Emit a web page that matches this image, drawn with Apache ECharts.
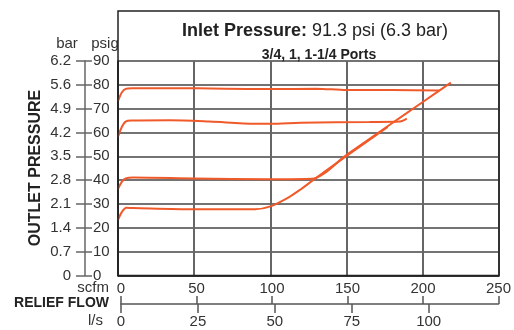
<!DOCTYPE html>
<html><head><meta charset="utf-8">
<script src="https://cdn.jsdelivr.net/npm/echarts@6/dist/echarts.min.js"></script>
<style>html,body{margin:0;padding:0;background:#fff}#c{width:514px;height:330px}</style>
</head><body><div id="c"></div>
<script>
// ---- data ----
const psigLabels = ['0','10','20','30','40','50','60','70','80','90'];
const barLabels = ['0','0.7','1.4','2.1','2.8','3.5','4.2','4.9','5.6','6.2'];
const scfmTicks = [0,50,100,150,200,250];
const lpsTicks = [0,25,50,75,100];
// [relief flow scfm, outlet pressure psig]
const curve80 = [[0,73.2],[2.5,76.8],[5,78.3],[9,78.6],[34,78.6],[70,78.4],[100,78.2],[130,78.4],[150,77.8],[180,77.8],[211,77.6]];
const curve60 = [[0,58.2],[2.5,62.3],[5,64.6],[9,65],[34,65.1],[60,64.6],[90,63.7],[100,63.7],[120,64.1],[165,64.4],[185,64.6],[189.5,65.8]];
const curve40 = [[0,36.3],[2.5,39.3],[5,40.7],[10,41.1],[50,40.7],[100,40.4],[127,40.6],[150,50.6],[175,61.8],[200,72.8],[218.4,80.9]];
const curve20 = [[0,23.3],[2.5,26.6],[5.5,28.4],[10,28.3],[50,27.8],[90,27.8],[100,29],[112,32.8],[120,36.2],[128,40],[150,50.2],[177,62.3]];

const FONT = 'Liberation Sans';
const ORANGE = '#F05A2A';
const chart = echarts.init(document.getElementById('c'), null, {renderer:'canvas'});

function line(d){
  return {type:'line', xAxisIndex:0, yAxisIndex:0, data:d, showSymbol:false, smooth:0.3,
    lineStyle:{color:ORANGE, width:2}, itemStyle:{color:ORANGE}, z:5, animation:false};
}

chart.setOption({
  animation:false,
  backgroundColor:'#fff',
  textStyle:{fontFamily:FONT},
  title:[
    {text:'{b|Inlet Pressure:}{n| 91.3 psi (6.3 bar)}', left:310, top:17, textAlign:'center',
     textStyle:{fontWeight:'normal', rich:{b:{fontFamily:FONT,fontWeight:'bold',fontSize:18,color:'#222'},n:{fontFamily:FONT,fontWeight:'normal',fontSize:18,color:'#222'}}}},
    {text:'3/4, 1, 1-1/4 Ports', left:314, top:43, textAlign:'center',
     textStyle:{fontFamily:FONT,fontWeight:'bold',fontSize:14,color:'#222'}}
  ],
  grid:[
    {left:118, right:15, top:61, bottom:54.5, show:false},
    {left:121, right:15, top:304, height:0, show:false}
  ],
  xAxis:[
    {gridIndex:0, type:'value', min:0, max:250, interval:50,
     axisLine:{show:true, lineStyle:{color:'#222', width:1.5}}, axisTick:{show:false}, axisLabel:{show:false},
     splitLine:{show:true, lineStyle:{color:'#666', width:2}}},
    {gridIndex:1, type:'value', position:'top', min:0, max:250, interval:50,
     axisLine:{show:true, onZero:false, lineStyle:{color:'#555', width:1.5}},
     axisTick:{show:true, length:8, lineStyle:{color:'#555', width:1.5}},
     axisLabel:{show:true, margin:8, fontSize:15, color:'#333', fontFamily:FONT},
     splitLine:{show:false}},
    {gridIndex:1, type:'value', position:'bottom', min:0, max:122.7,
     axisLine:{show:false, onZero:false},
     axisTick:{show:true, length:9, customValues:lpsTicks, lineStyle:{color:'#555', width:1.5}},
     axisLabel:{show:true, margin:10, fontSize:15, color:'#333', fontFamily:FONT, customValues:lpsTicks,
       formatter:(v)=> lpsTicks.indexOf(v)>=0 ? String(v) : ''},
     splitLine:{show:false}}
  ],
  yAxis:[
    {gridIndex:0, type:'value', min:0, max:90, interval:10,
     axisLine:{show:true, lineStyle:{color:'#222', width:1.5}}, axisTick:{show:false}, axisLabel:{show:false},
     splitLine:{show:true, lineStyle:{color:'#444', width:1.5}}},
    {gridIndex:0, type:'value', min:0, max:90, interval:10, position:'left', offset:33,
     axisLine:{show:true, lineStyle:{color:'#666', width:1.5}},
     axisTick:{show:true, length:9, lineStyle:{color:'#666', width:1.5}},
     axisLabel:{show:true, margin:14, fontSize:15, color:'#333', fontFamily:FONT,
       formatter:(v)=> barLabels[Math.round(v/10)]},
     splitLine:{show:false}},
    {gridIndex:0, type:'value', min:0, max:90, interval:10, position:'left', offset:33,
     axisLine:{show:false},
     axisTick:{show:true, inside:true, length:7, lineStyle:{color:'#666', width:1.5}},
     axisLabel:{show:true, inside:true, margin:8, fontSize:15, color:'#333', fontFamily:FONT,
       formatter:(v)=> psigLabels[Math.round(v/10)]},
     splitLine:{show:false}},
    {gridIndex:1, type:'value', min:0, max:1, show:false}
  ],
  graphic:[
    {type:'rect', shape:{x:118, y:11, width:381, height:264.5}, style:{fill:null, stroke:'#222', lineWidth:1.5}, z:10, silent:true},
    {type:'text', x:67, y:44, style:{text:'bar', font:'15px '+FONT, fill:'#333', textAlign:'center', textVerticalAlign:'middle'}},
    {type:'text', x:105, y:44, style:{text:'psig', font:'15px '+FONT, fill:'#333', textAlign:'center', textVerticalAlign:'middle'}},
    {type:'text', x:36, y:168, rotation:Math.PI/2, style:{text:'OUTLET PRESSURE', font:'bold 16px '+FONT, fill:'#222', textAlign:'center', textVerticalAlign:'middle'}},
    {type:'text', x:109, y:288, style:{text:'scfm', font:'15px '+FONT, fill:'#333', textAlign:'right', textVerticalAlign:'middle'}},
    {type:'text', x:109, y:303, style:{text:'RELIEF FLOW', font:'bold 14px '+FONT, fill:'#222', textAlign:'right', textVerticalAlign:'middle'}},
    {type:'text', x:103, y:321, style:{text:'l/s', font:'15px '+FONT, fill:'#333', textAlign:'right', textVerticalAlign:'middle'}}
  ],
  series:[line(curve80), line(curve60), line(curve40), line(curve20)]
});
</script></body></html>
